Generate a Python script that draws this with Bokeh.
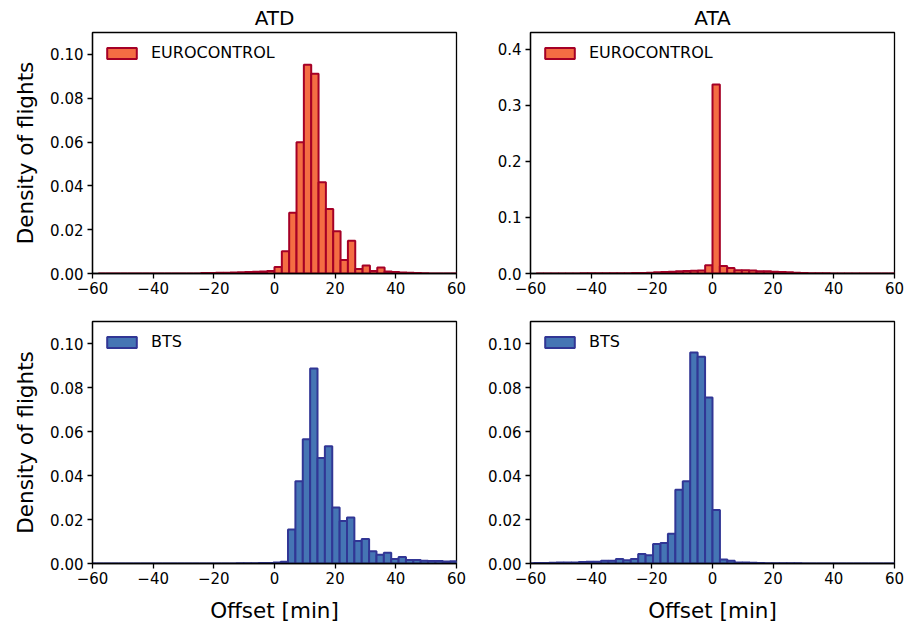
import numpy as np
from bokeh.plotting import figure
from bokeh.layouts import gridplot
from bokeh.models import (Range1d, FixedTicker, NumeralTickFormatter,
                          CustomJSTickFormatter)
from bokeh.embed import file_html
from bokeh.resources import INLINE

# ---------------- data (densities per bin) ----------------
col_titles = ["ATD", "ATA"]
sources = ["EUROCONTROL", "BTS"]
x_ticks = [-60, -40, -20, 0, 20, 40, 60]
y_ticks_small = [0.0, 0.02, 0.04, 0.06, 0.08, 0.10]
y_ticks_large = [0.0, 0.1, 0.2, 0.3, 0.4]

# ATD, EUROCONTROL
atd_euro_width = 2.42
atd_euro_first_edge = -58.08
atd_euro_density = [
    0, 0, 0, 0, 0, 0, 0, 0, 0, 0, 0, 0, 0, 0,
    0.0002, 0.0002, 0.0003, 0.0003, 0.0004, 0.0006, 0.0007, 0.0008, 0.0009, 0.0011,
    0.0030, 0.0102, 0.0277, 0.0599, 0.0953, 0.0912, 0.0417, 0.0294, 0.0193, 0.0062,
    0.0150, 0.0020, 0.0036, 0.0011, 0.0027, 0.0009, 0.0007, 0.0005, 0.0003, 0.0002,
    0.0001, 0, 0, 0, 0]

# ATA, EUROCONTROL
ata_euro_width = 2.42
ata_euro_first_edge = -58.08
ata_euro_density = [
    0.0001, 0.0001, 0.0001, 0.0002, 0.0002, 0.0002, 0.0003, 0.0003, 0.0003, 0.0003,
    0.0004, 0.0005, 0.0006, 0.0008, 0.0010, 0.0012, 0.0022, 0.0025, 0.0030, 0.0042,
    0.0045, 0.0050, 0.0053, 0.0149,
    0.3370, 0.0135, 0.0098, 0.0060, 0.0058, 0.0055, 0.0042, 0.0040, 0.0030, 0.0027,
    0.0022, 0.0012, 0.0008, 0.0005, 0.0004, 0.0003, 0.0002, 0.0001, 0.0001, 0.0001,
    0.0001, 0, 0, 0, 0]

# ATD, BTS
atd_bts_width = 2.43
atd_bts_first_edge = -61.15
atd_bts_density = [
    0, 0, 0, 0, 0, 0, 0, 0, 0, 0, 0, 0, 0, 0, 0, 0, 0, 0, 0, 0,
    0.0001, 0.0001, 0.0001, 0.0002, 0.0002, 0.0004, 0.0008,
    0.0155, 0.0374, 0.0565, 0.0886, 0.0480, 0.0533, 0.0255, 0.0193, 0.0209, 0.0102,
    0.0111, 0.0056, 0.0040, 0.0049, 0.0020, 0.0029, 0.0016, 0.0016, 0.0012, 0.0011,
    0.0011, 0.0009, 0.0010]

# ATA, BTS
ata_bts_width = 2.45
ata_bts_first_edge = -61.25
ata_bts_density = [
    0.0001, 0.0002, 0.0002, 0.0003, 0.0004, 0.0005, 0.0005, 0.0007, 0.0008, 0.0008,
    0.0013, 0.0013, 0.0020, 0.0015, 0.0020, 0.0043, 0.0038, 0.0089, 0.0093, 0.0135,
    0.0335, 0.0374, 0.0959, 0.0940, 0.0755,
    0.0243, 0.0018, 0.0012, 0.0005, 0.0004, 0.0003, 0.0002, 0.0001, 0.0001, 0.0001,
    0.0001, 0.0001, 0, 0, 0, 0, 0, 0, 0, 0, 0, 0, 0, 0, 0]

# ---------------- styling ----------------
FONT = "DejaVu Sans"
EURO_FILL, EURO_LINE = "#f46d43", "#a50026"
BTS_FILL, BTS_LINE = "#4575b4", "#313695"

xfmt_code = "return (tick < 0 ? '\\u2212' : '') + Math.abs(tick).toFixed(0);"


def panel(density, first_edge, width_bin, fill, line, label, ymax, yticks, yfmt,
          fig_w, fig_h, bl, br, bt, bb, title=None, ylabel=None, xlabel=None):
    d = np.asarray(density, dtype=float)
    left = first_edge + width_bin * np.arange(len(d))
    right = left + width_bin
    p = figure(width=fig_w, height=fig_h, output_backend="svg", toolbar_location=None,
               x_range=Range1d(-60, 60), y_range=Range1d(0, ymax),
               min_border_left=bl, min_border_right=br,
               min_border_top=bt, min_border_bottom=bb)
    p.quad(left=left, right=right, bottom=0, top=d, fill_color=fill,
           line_color=line, line_width=2, legend_label=label)
    p.xgrid.grid_line_color = None
    p.ygrid.grid_line_color = None
    p.outline_line_color = "black"
    p.outline_line_width = 1.3
    p.background_fill_color = "white"
    p.border_fill_color = "white"
    for ax in (p.xaxis[0], p.yaxis[0]):
        ax.axis_line_color = "black"
        ax.axis_line_width = 1.3
        ax.major_tick_line_color = "black"
        ax.major_tick_line_width = 1.3
        ax.major_tick_in = 0
        ax.major_tick_out = 5
        ax.minor_tick_line_color = None
        ax.major_label_text_font = FONT
        ax.major_label_text_font_size = "15px"
        ax.major_label_text_color = "black"
        ax.major_label_standoff = 4
        ax.axis_label_text_font = FONT
        ax.axis_label_text_font_size = "21.5px"
        ax.axis_label_text_font_style = "normal"
        ax.axis_label_text_color = "black"
    p.xaxis.major_label_standoff = 3
    p.xaxis.ticker = FixedTicker(ticks=x_ticks)
    p.xaxis.formatter = CustomJSTickFormatter(code=xfmt_code)
    p.yaxis.ticker = FixedTicker(ticks=yticks)
    p.yaxis.formatter = NumeralTickFormatter(format=yfmt)
    if ylabel:
        p.yaxis.axis_label = ylabel
        p.yaxis.axis_label_standoff = 9
    if xlabel:
        p.xaxis.axis_label = xlabel
        p.xaxis.axis_label_standoff = 11
    if title:
        p.title.text = title
        p.title.align = "center"
        p.title.text_font = FONT
        p.title.text_font_size = "20px"
        p.title.text_font_style = "normal"
        p.title.text_color = "black"
        p.title.standoff = 6
    lg = p.legend[0]
    lg.location = "top_left"
    lg.border_line_alpha = 0
    lg.background_fill_alpha = 0
    lg.label_text_font = FONT
    lg.label_text_font_size = "16px"
    lg.label_text_color = "black"
    lg.glyph_width = 37
    lg.glyph_height = 14
    lg.label_height = 14
    lg.label_standoff = 11
    lg.margin = 5
    lg.padding = 6
    return p


LW, RW = 478, 427
TH, BH = 300, 329

p_tl = panel(atd_euro_density, atd_euro_first_edge, atd_euro_width, EURO_FILL, EURO_LINE,
             sources[0], 0.11, y_ticks_small, "0.00", LW, TH, 92, 22, 31, 27,
             title=col_titles[0], ylabel="Density of flights")
p_tr = panel(ata_euro_density, ata_euro_first_edge, ata_euro_width, EURO_FILL, EURO_LINE,
             sources[0], 0.43, y_ticks_large, "0.0", RW, TH, 52, 11, 31, 27,
             title=col_titles[1])
p_bl = panel(atd_bts_density, atd_bts_first_edge, atd_bts_width, BTS_FILL, BTS_LINE,
             sources[1], 0.11, y_ticks_small, "0.00", LW, BH, 92, 22, 21, 66,
             ylabel="Density of flights", xlabel="Offset [min]")
p_br = panel(ata_bts_density, ata_bts_first_edge, ata_bts_width, BTS_FILL, BTS_LINE,
             sources[1], 0.11, y_ticks_small, "0.00", RW, BH, 52, 11, 21, 66,
             xlabel="Offset [min]")

grid = gridplot([[p_tl, p_tr], [p_bl, p_br]], toolbar_location=None)

with open("out.html", "w") as f:
    f.write(file_html(grid, INLINE))
